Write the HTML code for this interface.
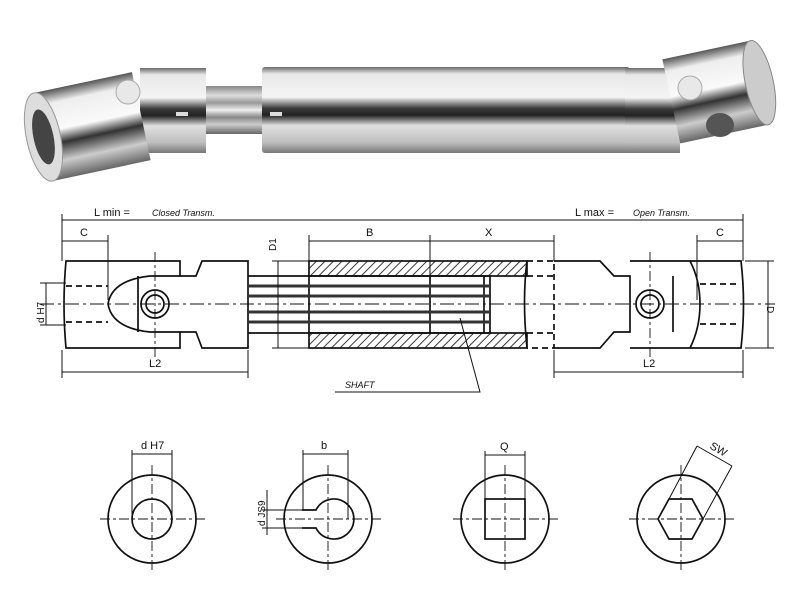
<!DOCTYPE html>
<html><head><style>
html,body{margin:0;padding:0;background:#fff;width:800px;height:600px;overflow:hidden}
svg text{font-family:"Liberation Sans",sans-serif;fill:#111}
</style></head><body>
<svg width="800" height="600" viewBox="0 0 800 600" xmlns="http://www.w3.org/2000/svg">
<defs>
<linearGradient id="tube" x1="0" y1="0" x2="0" y2="1">
<stop offset="0" stop-color="#6a6a6a"/><stop offset="0.08" stop-color="#e8e8e8"/>
<stop offset="0.35" stop-color="#f4f4f4"/><stop offset="0.48" stop-color="#3a3a3a"/>
<stop offset="0.56" stop-color="#222"/><stop offset="0.68" stop-color="#e0e0e0"/>
<stop offset="0.88" stop-color="#bdbdbd"/><stop offset="1" stop-color="#777"/></linearGradient>
<linearGradient id="shaft" x1="0" y1="0" x2="0" y2="1">
<stop offset="0" stop-color="#888"/><stop offset="0.2" stop-color="#ddd"/><stop offset="0.35" stop-color="#999"/>
<stop offset="0.5" stop-color="#eee"/><stop offset="0.65" stop-color="#888"/><stop offset="0.8" stop-color="#ccc"/><stop offset="1" stop-color="#666"/></linearGradient>
<linearGradient id="cup" x1="0" y1="0" x2="0" y2="1">
<stop offset="0" stop-color="#555"/><stop offset="0.15" stop-color="#eee"/><stop offset="0.45" stop-color="#fafafa"/>
<stop offset="0.6" stop-color="#333"/><stop offset="0.8" stop-color="#ccc"/><stop offset="1" stop-color="#666"/></linearGradient>
<pattern id="hatch" width="6" height="6" patternUnits="userSpaceOnUse" patternTransform="rotate(45)">
<line x1="0" y1="0" x2="0" y2="6" stroke="#222" stroke-width="1.8"/></pattern>
</defs>

<rect x="205" y="86" width="60" height="48" fill="url(#shaft)"/>
<rect x="262" y="67" width="368" height="86" rx="3" fill="url(#tube)"/>
<rect x="270" y="112" width="12" height="4" fill="#ddd"/>
<rect x="140" y="68" width="66" height="85" fill="url(#tube)"/>
<rect x="176" y="112" width="12" height="4" fill="#ddd"/>
<rect x="625" y="68" width="55" height="85" fill="url(#tube)"/>
<g transform="rotate(-12 90 125)">
<rect x="42" y="82" width="100" height="90" fill="url(#cup)"/>
<ellipse cx="42" cy="127" rx="17" ry="45" fill="#ddd" stroke="#999"/>
<ellipse cx="42" cy="127" rx="10" ry="28" fill="#444"/>
</g>
<circle cx="128" cy="92" r="12" fill="#e8e8e8" stroke="#aaa"/>
<g transform="rotate(-12 720 90)">
<rect x="670" y="48" width="90" height="86" fill="url(#cup)"/>
<ellipse cx="760" cy="91" rx="14" ry="43" fill="#ccc" stroke="#888"/>
</g>
<circle cx="690" cy="88" r="12" fill="#e8e8e8" stroke="#aaa"/>
<ellipse cx="720" cy="125" rx="14" ry="12" fill="#555"/>

<g stroke="#111" fill="none" stroke-width="1.7">
<path d="M66 261 H180 V276 H150 Q112 280 108 304 Q112 328 150 332 H180 V348 H66 Q62 304 66 261Z"/>
<path d="M138 276 V332"/>
<path d="M180 276 L196 276 L202 261 H248 V348 H202 L196 332 H180"/>
<circle cx="155" cy="304" r="14"/><circle cx="155" cy="304" r="9"/>
<path d="M66 286 H108 M66 322 H108" stroke-dasharray="6 4"/>
<path d="M554 261 H600 L614 276 H630 V332 H614 L600 348 H554"/>
<path d="M630 261 H690 Q700 280 700 304 Q700 328 690 348 H630"/>
<path d="M673 276 V332"/>
<path d="M690 261 H741 Q746 304 741 348 H690"/>
<circle cx="650" cy="304" r="14"/><circle cx="650" cy="304" r="9"/>
<path d="M700 284 H740 M700 324 H740" stroke-dasharray="6 4"/>
<rect x="309" y="261" width="218" height="15" fill="url(#hatch)"/>
<rect x="309" y="333" width="218" height="15" fill="url(#hatch)"/>
<path d="M309 276 V333 M430 276 V333"/>
<path d="M527 261 Q522 300 527 348" />
<path d="M527 261 H554 V348 H527 M527 276 H554 M527 333 H554" stroke-dasharray="6 4"/>
<path d="M248 276 H490 V333 H248 M484 276 V333"/>
<path d="M248 286 H490 M248 296 H490 M248 312 H490 M248 322 H490" stroke-width="3" stroke="#333"/>
<path d="M40 304 H775" stroke-width="0.9" stroke-dasharray="14 4 3 4"/>
<path d="M155 252 V358 M650 252 V358" stroke-width="0.9" stroke-dasharray="10 3 3 3"/>
</g>
<g stroke="#111" stroke-width="1" fill="none">
<path d="M62 220 H743 M62 214 V261 M743 214 V261"/>
<path d="M62 241 H108 M108 235 V300 M697 241 H743 M697 235 V300"/>
<path d="M309 241 H554 M309 235 V261 M430 235 V276 M554 235 V261"/>
<path d="M278 261 V348 M272 261 H309 M272 348 H309"/>
<path d="M768 261 V348 M745 261 H774 M745 348 H774"/>
<path d="M46 283 V325 M40 283 H66 M40 325 H66"/>
<path d="M62 350 V378 M248 350 V378 M62 372 H248 M554 350 V378 M743 350 V378 M554 372 H743"/>
<path d="M335 392 H480 L460 318"/>
</g>
<g font-size="11">
<text x="94" y="216">L  min  =</text><text x="152" y="216" font-style="italic" font-size="9">Closed  Transm.</text>
<text x="575" y="216">L  max  =</text><text x="633" y="216" font-style="italic" font-size="9">Open  Transm.</text>
<text x="80" y="236">C</text><text x="716" y="236">C</text>
<text x="366" y="236">B</text><text x="485" y="236">X</text>
<text x="149" y="367">L2</text><text x="643" y="367">L2</text>
<text x="345" y="388" font-style="italic" font-size="9">SHAFT</text>
<text transform="translate(276 251) rotate(-90)" font-size="10">D1</text>
<text transform="translate(767 306) rotate(90)" font-size="10">D</text>
<text transform="translate(44 323) rotate(-90)" font-size="10">d H7</text>
</g>

<g stroke="#111" stroke-width="1.7" fill="none">
<circle cx="152" cy="519" r="44"/><circle cx="152" cy="519" r="20"/>
<circle cx="328" cy="519" r="44"/><path d="M302 510 H316 A20 20 0 1 1 316 528 H302"/>
<circle cx="505" cy="519" r="44"/><rect x="485" y="499" width="40" height="40"/>
<circle cx="681" cy="519" r="44"/><path d="M658 519 L669 499 H692 L703 519 L692 539 H669Z"/>
</g>
<g stroke="#111" stroke-width="0.9" fill="none" stroke-dasharray="10 3 3 3">
<path d="M100 519 H205 M152 465 V573 M276 519 H381 M328 465 V573 M453 519 H558 M505 465 V573 M629 519 H734 M681 465 V573"/>
</g>
<g stroke="#111" stroke-width="1" fill="none">
<path d="M132 454 H172 M132 450 V519 M172 450 V519"/>
<path d="M303 454 H348 M303 450 V510 M348 450 V519"/>
<path d="M485 455 H525 M485 451 V499 M525 451 V499"/>
<path d="M267 490 V535 M262 510 H302 M262 528 H302"/>
<path d="M669 499 L697 446 M703 519 L732 466 M697 446 L732 466"/>
</g>
<g font-size="11">
<text x="141" y="449">d H7</text><text x="321" y="449">b</text><text x="500" y="450">Q</text>
<text transform="translate(709 448) rotate(30)">SW</text>
<text transform="translate(265 526) rotate(-90)" font-size="10">d  JS9</text>
</g>
</svg>
</body></html>
